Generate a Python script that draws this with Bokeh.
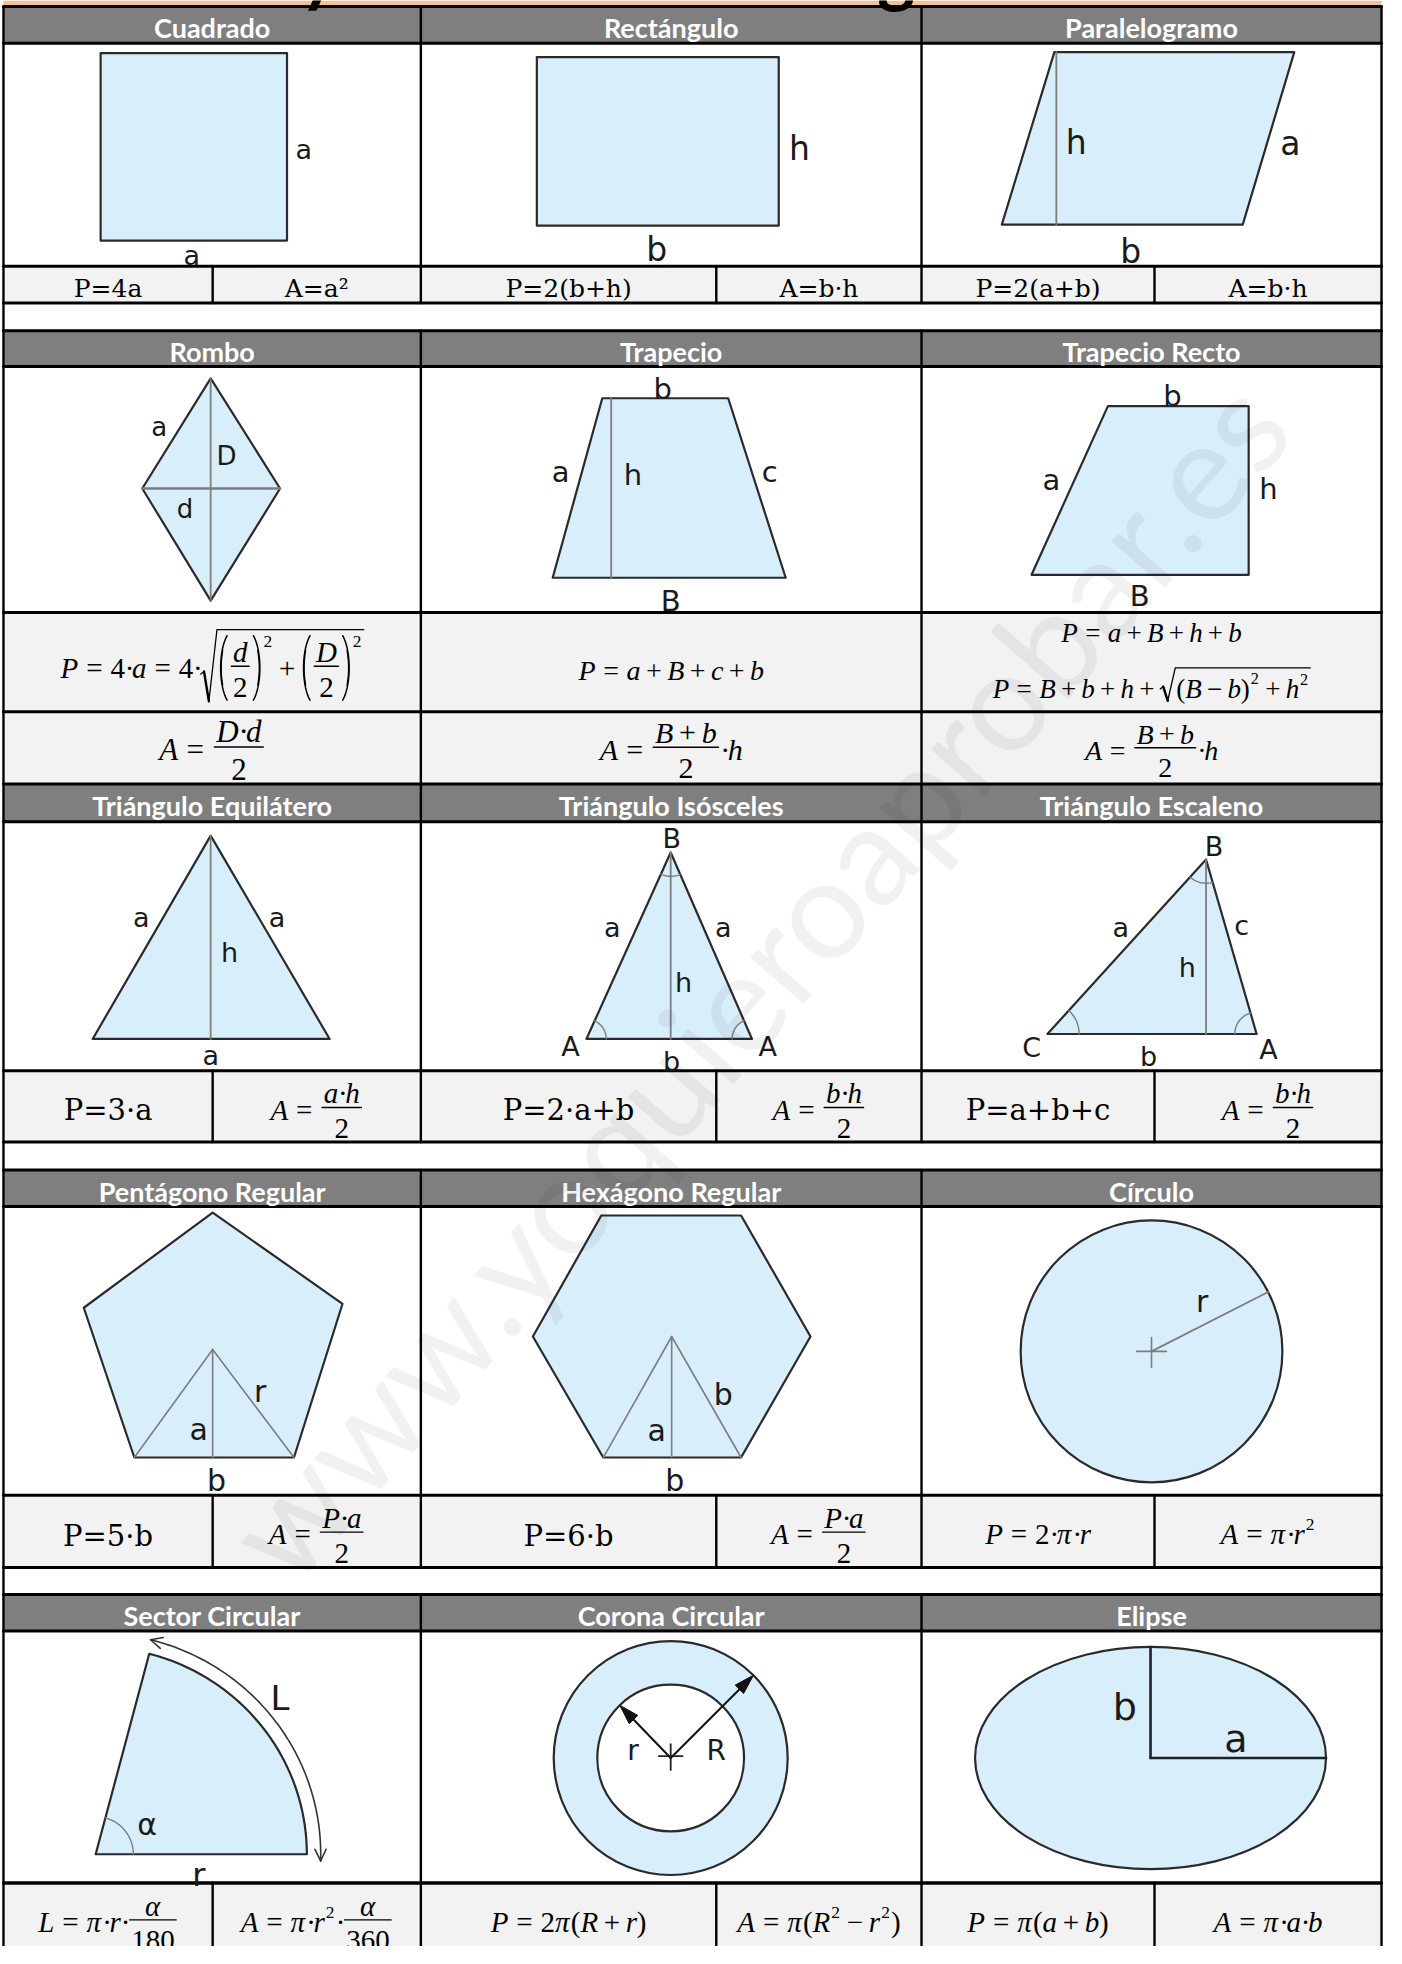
import math
import numpy as np
from bokeh.plotting import figure
from bokeh.models import Range1d
from bokeh.core.properties import value
from bokeh.embed import file_html
from bokeh.resources import INLINE

# ---------------------------------------------------------------- content
TITLE = "Áreas y Perímetros de Figuras Planas"
WATERMARK = "www.yoquieroaprobar.es"
HEADERS = [["Cuadrado", "Rectángulo", "Paralelogramo"],
           ["Rombo", "Trapecio", "Trapecio Recto"],
           ["Triángulo Equilátero", "Triángulo Isósceles", "Triángulo Escaleno"],
           ["Pentágono Regular", "Hexágono Regular", "Círculo"],
           ["Sector Circular", "Corona Circular", "Elipse"]]


# math token helpers (formula content)
def I(s): return ("t", s, "italic")
def R(s): return ("t", s, "normal")
def OP(s): return ("op", s, 0.28 if s == "=" else 0.2)
def SUP(s): return ("sup", s)
def FRAC(n, d): return ("frac", n, d)
def SQRT(*c): return ("sqrt", list(c))
def PAR(*c): return ("par", list(c))
DOT = R("·")

ROW1_FORMULAS = ["P=4a", "A=a²", "P=2(b+h)", "A=b·h", "P=2(a+b)", "A=b·h"]
ROW2_P = [
    [I("P"), OP("="), R("4"), DOT, I("a"), OP("="), R("4"), DOT,
     SQRT(PAR(FRAC([I("d")], [R("2")])), SUP("2"), OP("+"),
          PAR(FRAC([I("D")], [R("2")])), SUP("2"))],
    [I("P"), OP("="), I("a"), OP("+"), I("B"), OP("+"), I("c"), OP("+"), I("b")],
    [[I("P"), OP("="), I("a"), OP("+"), I("B"), OP("+"), I("h"), OP("+"), I("b")],
     [I("P"), OP("="), I("B"), OP("+"), I("b"), OP("+"), I("h"), OP("+"),
      SQRT(PAR(I("B"), OP("−"), I("b")), SUP("2"), OP("+"), I("h"), SUP("2"))]],
]
ROW2_A = [
    [I("A"), OP("="), FRAC([I("D"), DOT, I("d")], [R("2")])],
    [I("A"), OP("="), FRAC([I("B"), OP("+"), I("b")], [R("2")]), DOT, I("h")],
    [I("A"), OP("="), FRAC([I("B"), OP("+"), I("b")], [R("2")]), DOT, I("h")],
]
ROW3_FORMULAS = ["P=3·a", [I("A"), OP("="), FRAC([I("a"), DOT, I("h")], [R("2")])],
                 "P=2·a+b", [I("A"), OP("="), FRAC([I("b"), DOT, I("h")], [R("2")])],
                 "P=a+b+c", [I("A"), OP("="), FRAC([I("b"), DOT, I("h")], [R("2")])]]
ROW4_FORMULAS = ["P=5·b", [I("A"), OP("="), FRAC([I("P"), DOT, I("a")], [R("2")])],
                 "P=6·b", [I("A"), OP("="), FRAC([I("P"), DOT, I("a")], [R("2")])],
                 [I("P"), OP("="), R("2"), DOT, I("π"), DOT, I("r")],
                 [I("A"), OP("="), I("π"), DOT, I("r"), SUP("2")]]
ROW5_FORMULAS = [
    [I("L"), OP("="), I("π"), DOT, I("r"), DOT, FRAC([I("α")], [R("180")])],
    [I("A"), OP("="), I("π"), DOT, I("r"), SUP("2"), DOT, FRAC([I("α")], [R("360")])],
    [I("P"), OP("="), R("2"), I("π"), PAR(I("R"), OP("+"), I("r"))],
    [I("A"), OP("="), I("π"), PAR(I("R"), SUP("2"), OP("−"), I("r"), SUP("2"))],
    [I("P"), OP("="), I("π"), PAR(I("a"), OP("+"), I("b"))],
    [I("A"), OP("="), I("π"), DOT, I("a"), DOT, I("b")],
]

# shape geometry
SQUARE_X = [105, 293, 293, 105]; SQUARE_Y = [53, 53, 242, 242]
RECT_X = [545, 789, 789, 545]; RECT_Y = [57, 57, 227, 227]
PARA_X = [1067, 1309, 1257, 1014]; PARA_Y = [52, 52, 226, 226]
ROMBO_X = [216, 286, 216, 147]; ROMBO_Y = [381, 492, 605, 492]
TRAP_X = [611, 738, 796, 561]; TRAP_Y = [401, 401, 582, 582]; TRAP_HX = 620
TRAPR_X = [1121, 1263, 1263, 1044]; TRAPR_Y = [409, 409, 579, 579]
EQUI_X = [216, 336, 97]; EQUI_Y = [842, 1047, 1047]
ISOS_X = [680, 762, 595]; ISOS_Y = [859, 1047, 1047]
ESCA_X = [1220, 1271, 1060]; ESCA_Y = [866, 1042, 1042]
PENT_X = [218, 349, 300, 139, 88]; PENT_Y = [1222, 1314, 1469, 1469, 1318]; PENT_C = (218, 1360)
HEXA_X = [610, 751, 821, 751, 612, 541]; HEXA_Y = [1225, 1225, 1347, 1469, 1469, 1347]; HEXA_C = (681, 1347)
CIRCLE_C = (1165, 1362); CIRCLE_R = 132; CIRCLE_R_ANGLE = 27
SECTOR_V = (100, 1869); SECTOR_RX = 213; SECTOR_RY = 209; SECTOR_ANGLE = 75.3
CORONA_C = (680, 1772); CORONA_R = 118; CORONA_r = 74; CORONA_ANG_R = 45; CORONA_ANG_r = 134
ELLIPSE_C = (1164, 1772); ELLIPSE_A = 177; ELLIPSE_B = 112

# shape labels: (x centre, baseline, text, size)
LABELS = [
    (310, 157, "a", 27), (197, 264, "a", 27),
    (810, 158, "h", 33), (666, 260, "b", 33),
    (1089, 152, "h", 33), (1305, 153, "a", 33), (1144, 262, "b", 33),
    (164, 437, "a", 26), (232, 466, "D", 26), (190, 519, "d", 26),
    (672, 399, "b", 29), (569, 483, "a", 29), (642, 486, "h", 29), (780, 483, "c", 29), (680, 613, "B", 29),
    (1186, 406, "b", 29), (1064, 491, "a", 29), (1283, 500, "h", 29), (1153, 608, "B", 29),
    (146, 932, "a", 27), (283, 932, "a", 27), (235, 967, "h", 27), (216, 1071, "a", 27),
    (681, 852, "B", 27), (621, 942, "a", 27), (733, 942, "a", 27), (693, 997, "h", 27),
    (579, 1062, "A", 27), (778, 1062, "A", 27), (681, 1077, "b", 27),
    (1228, 860, "B", 27), (1134, 942, "a", 27), (1256, 940, "c", 27), (1201, 982, "h", 27),
    (1044, 1063, "C", 27), (1162, 1072, "b", 27), (1283, 1065, "A", 27),
    (266, 1410, "r", 30), (204, 1449, "a", 30), (222, 1500, "b", 30),
    (733, 1413, "b", 30), (666, 1450, "a", 30), (684, 1500, "b", 30),
    (1216, 1320, "r", 30),
    (286, 1720, "L", 34), (152, 1847, "α", 30), (204, 1898, "r", 32),
    (642, 1772, "r", 28), (726, 1772, "R", 28),
    (1138, 1730, "b", 38), (1250, 1763, "a", 38),
]

# ---------------------------------------------------------------- layout
COL_EDGES = [7, 428, 933, 1397]
SUB_EDGES = [7, 218, 428, 726, 933, 1168, 1397]
HEADER_ROWS = [(6, 43), (333, 369), (790, 828), (1179, 1216), (1607, 1644)]
SHAPE_ROWS = [(43, 268), (369, 617), (828, 1079), (1216, 1507), (1644, 1898)]
FORMULA_ROWS = [(268, 305), (617, 717), (717, 790), (1079, 1151), (1507, 1580), (1898, 1970)]
SPLIT_ROWS = [(268, 305), (1079, 1151), (1507, 1580), (1898, 1970)]
COL_SEGMENTS = [(6, 305), (333, 1151), (1179, 1580), (1607, 1970)]

FILL = "#d9eefb"
EDGE = "#2a2a2a"
INNER = "#7d7d7d"
MATH_FONT = "Liberation Serif"
PLAIN_FONT = "DejaVu Serif"
LABEL_FONT = "DejaVu Sans"
HEAD_FONT = "Lato"
# vertical correction (fraction of font size) so that glyphs sit on the wanted baseline
BASE_SHIFT = {"Lato": 0.32, "DejaVu Sans": 0.26, "DejaVu Serif": 0.27, "Liberation Serif": 0.19}

p = figure(width=1384, height=1946, x_range=Range1d(4, 1400), y_range=Range1d(1962, 0),
           output_backend="svg", toolbar_location=None, min_border=0,
           x_axis_type=None, y_axis_type=None)
p.grid.visible = False
p.outline_line_color = None
p.background_fill_color = "white"

TEXT_GROUPS = {}
LINE_GROUPS = {}


def add_text(x, y, s, font, size, style="normal", color="#000000", align="left",
             baseline="alphabetic", angle=0.0, alpha=1.0):
    if baseline == "alphabetic":
        y = y - BASE_SHIFT.get(font, 0.24) * size
    key = (font, round(size, 1), style, color, align, baseline, angle, alpha)
    g = TEXT_GROUPS.setdefault(key, ([], [], []))
    g[0].append(x); g[1].append(y); g[2].append(s)


def add_line(xs, ys, color="#000000", width=1.5):
    key = (color, width)
    g = LINE_GROUPS.setdefault(key, ([], []))
    g[0].append([float(v) for v in xs]); g[1].append([float(v) for v in ys])


# ---------------- math typesetting
WR = {' ': 0.25, '=': 0.564, '+': 0.564, '−': 0.564, '(': 0.333, ')': 0.333, '·': 0.25}
for _d in "0123456789":
    WR[_d] = 0.5
WI = {'a': 0.5, 'b': 0.5, 'c': 0.444, 'd': 0.5, 'h': 0.5, 'r': 0.389, 'P': 0.611, 'A': 0.611,
      'B': 0.611, 'D': 0.722, 'L': 0.556, 'R': 0.611, 'π': 0.55, 'α': 0.55}
AX, NUM, DEN = 0.27, 0.30, 0.92


def text_w(s, style, S):
    tab = WI if style == "italic" else WR
    return sum(tab.get(c, 0.5) for c in s) * S


def sup_raise(S, prev_a):
    return max(0.42 * S, prev_a - 0.32 * S)


def measure(t, S, prev_a):
    k = t[0]
    if k == "t":
        return text_w(t[1], t[2], S), 0.7 * S, 0.2 * S
    if k == "op":
        return text_w(t[1], "normal", S) + 2 * t[2] * S, 0.6 * S, 0.1 * S
    if k == "sup":
        s2 = 0.6 * S
        return text_w(t[1], "normal", s2) + 0.08 * S, sup_raise(S, prev_a) + 0.68 * s2, 0.0
    if k == "frac":
        wn, an, dn = measure_seq(t[1], S)
        wd, ad, dd = measure_seq(t[2], S)
        return max(wn, wd) + 0.24 * S, AX * S + NUM * S + an, DEN * S - AX * S + dd
    if k == "par":
        w, a, d = measure_seq(t[1], S)
        if a + d > 1.3 * S:
            return w + 0.8 * S, a + 0.06 * S, d + 0.06 * S
        return w + 0.666 * S, max(a, 0.76 * S), max(d, 0.22 * S)
    if k == "sqrt":
        w, a, d = measure_seq(t[1], S)
        return w + 0.66 * S, a + 0.14 * S, d + 0.05 * S


def measure_seq(toks, S):
    w, a, d, prev_a = 0.0, 0.7 * S, 0.2 * S, 0.7 * S
    for t in toks:
        tw_, ta, td = measure(t, S, prev_a)
        w += tw_; a = max(a, ta); d = max(d, td); prev_a = ta
    return w, a, d


def paren(x0, pw, top, bot, left):
    th = 1.0
    phi = np.linspace(-th, th, 31)
    mid = (top + bot) / 2.0
    h = bot - top
    ys = mid + (h / 2.0) * np.sin(phi) / np.sin(th)
    f = (1 - np.cos(phi)) / (1 - np.cos(th))
    xl, xr = x0 + 0.22 * pw, x0 + 0.78 * pw
    xs = xl + (xr - xl) * f if left else xr - (xr - xl) * f
    add_line(xs, ys, "#000000", 1.5)
    k = slice(8, 23)
    add_line(xs[k] + (0.6 if left else -0.6), ys[k], "#000000", 1.3)


def render(t, x, yb, S, prev_a):
    k = t[0]
    w, a, d = measure(t, S, prev_a)
    if k == "t":
        add_text(x, yb, t[1], MATH_FONT, S, t[2])
    elif k == "op":
        add_text(x + t[2] * S, yb, t[1], MATH_FONT, S)
    elif k == "sup":
        add_text(x + 0.04 * S, yb - sup_raise(S, prev_a), t[1], MATH_FONT, 0.6 * S)
    elif k == "frac":
        wn = measure_seq(t[1], S)[0]
        wd = measure_seq(t[2], S)[0]
        bar = yb - AX * S
        add_line([x + 0.06 * S, x + w - 0.06 * S], [bar, bar], "#000000", 1.4)
        render_seq(t[1], x + (w - wn) / 2, bar - NUM * S, S)
        render_seq(t[2], x + (w - wd) / 2, bar + DEN * S, S)
    elif k == "par":
        wi, ai, di = measure_seq(t[1], S)
        if ai + di > 1.3 * S:
            pw = 0.4 * S
            paren(x, pw, yb - a, yb + d, True)
            paren(x + w - pw, pw, yb - a, yb + d, False)
            render_seq(t[1], x + pw, yb, S)
        else:
            add_text(x, yb, "(", MATH_FONT, S)
            render_seq(t[1], x + 0.333 * S, yb, S)
            add_text(x + 0.333 * S + wi, yb, ")", MATH_FONT, S)
    elif k == "sqrt":
        wi, ai, di = measure_seq(t[1], S)
        top = yb - ai - 0.12 * S
        bot = yb + di + 0.04 * S
        mid = top + 0.6 * (bot - top)
        xs = [x + 0.02 * S, x + 0.13 * S, x + 0.3 * S, x + 0.58 * S, x + w]
        ys = [mid + 0.05 * S, mid - 0.04 * S, bot, top, top]
        add_line(xs, ys, "#000000", 1.3)
        add_line(xs[1:3], ys[1:3], "#000000", 2.4)
        render_seq(t[1], x + 0.62 * S, yb, S)
    return w, a


def render_seq(toks, x, yb, S):
    prev_a = 0.7 * S
    for t in toks:
        w, a = render(t, x, yb, S, prev_a)
        x += w
        prev_a = a
    return x


def formula(item, cx, yb, S_math, S_plain=25, plain_dy=0):
    if isinstance(item, str):
        add_text(cx, yb + plain_dy, item, PLAIN_FONT, S_plain, align="center")
    else:
        w = measure_seq(item, S_math)[0]
        render_seq(item, cx - w / 2, yb, S_math)


# ---------------------------------------------------------------- table
L, Rr = COL_EDGES[0], COL_EDGES[-1]
p.quad(left=[L], right=[Rr], top=[0], bottom=[6], fill_color="#f9c08f", line_color=None)
p.quad(left=[L] * len(HEADER_ROWS), right=[Rr] * len(HEADER_ROWS),
       top=[a for a, b in HEADER_ROWS], bottom=[b for a, b in HEADER_ROWS],
       fill_color="#7f7f7f", line_color=None)
p.quad(left=[L] * len(FORMULA_ROWS), right=[Rr] * len(FORMULA_ROWS),
       top=[a for a, b in FORMULA_ROWS], bottom=[b for a, b in FORMULA_ROWS],
       fill_color="#f2f2f2", line_color=None)

# title (only its descenders show above the table)
add_text(700, -8, TITLE, HEAD_FONT, 72, "bold", align="center")

# ---------------------------------------------------------------- shapes
poly_x = [SQUARE_X, RECT_X, PARA_X, ROMBO_X, TRAP_X, TRAPR_X, EQUI_X, ISOS_X, ESCA_X, PENT_X, HEXA_X]
poly_y = [SQUARE_Y, RECT_Y, PARA_Y, ROMBO_Y, TRAP_Y, TRAPR_Y, EQUI_Y, ISOS_Y, ESCA_Y, PENT_Y, HEXA_Y]

# sector polygon
t1 = math.radians(SECTOR_ANGLE)
ts = np.linspace(0, t1, 60)
sec_x = [SECTOR_V[0]] + list(SECTOR_V[0] + SECTOR_RX * np.cos(ts))
sec_y = [SECTOR_V[1]] + list(SECTOR_V[1] - SECTOR_RY * np.sin(ts))
poly_x.append(sec_x); poly_y.append(sec_y)

p.patches(xs=poly_x, ys=poly_y, fill_color=FILL, line_color=EDGE, line_width=2.2, line_join="round")

# circles / ellipses
p.ellipse(x=[CIRCLE_C[0], CORONA_C[0], ELLIPSE_C[0]], y=[CIRCLE_C[1], CORONA_C[1], ELLIPSE_C[1]],
          width=[2 * CIRCLE_R, 2 * CORONA_R, 2 * ELLIPSE_A], height=[2 * CIRCLE_R, 2 * CORONA_R, 2 * ELLIPSE_B],
          fill_color=FILL, line_color=EDGE, line_width=2.2)
p.ellipse(x=[CORONA_C[0]], y=[CORONA_C[1]], width=[2 * CORONA_r], height=[2 * CORONA_r],
          fill_color="white", line_color=EDGE, line_width=2.2)

# inner construction lines
add_line([PARA_X[0] + 2, PARA_X[0] + 2], [PARA_Y[0], PARA_Y[2]], INNER, 1.8)
add_line([ROMBO_X[0], ROMBO_X[2]], [ROMBO_Y[0], ROMBO_Y[2]], INNER, 1.8)
add_line([ROMBO_X[3], ROMBO_X[1]], [ROMBO_Y[3], ROMBO_Y[1]], INNER, 2.4)
add_line([TRAP_HX, TRAP_HX], [TRAP_Y[0], TRAP_Y[2]], INNER, 1.8)
for TX, TY in [(EQUI_X, EQUI_Y), (ISOS_X, ISOS_Y), (ESCA_X, ESCA_Y)]:
    add_line([TX[0], TX[0]], [TY[0], TY[1]], INNER, 1.8)
for C, XX, YY, i1, i2 in [(PENT_C, PENT_X, PENT_Y, 3, 2), (HEXA_C, HEXA_X, HEXA_Y, 4, 3)]:
    add_line([XX[i1], C[0], XX[i2]], [YY[i1], C[1], YY[i2]], INNER, 1.6)
    add_line([C[0], C[0]], [C[1], YY[i1]], INNER, 1.6)


def angle_arc(V, P1, P2, r, color=INNER, width=1.4):
    a1 = math.atan2(P1[1] - V[1], P1[0] - V[0])
    a2 = math.atan2(P2[1] - V[1], P2[0] - V[0])
    da = (a2 - a1 + math.pi) % (2 * math.pi) - math.pi
    aa = a1 + np.linspace(0, 1, 20) * da
    add_line(V[0] + r * np.cos(aa), V[1] + r * np.sin(aa), color, width)


iso = list(zip(ISOS_X, ISOS_Y))
angle_arc(iso[0], iso[1], iso[2], 24)
angle_arc(iso[1], iso[0], iso[2], 20)
angle_arc(iso[2], iso[0], iso[1], 20)
esc = list(zip(ESCA_X, ESCA_Y))
angle_arc(esc[0], esc[1], esc[2], 24)
angle_arc(esc[1], esc[0], esc[2], 22)
angle_arc(esc[2], esc[0], esc[1], 32)

# circle radius + centre cross
ca = math.radians(CIRCLE_R_ANGLE)
add_line([CIRCLE_C[0], CIRCLE_C[0] + CIRCLE_R * math.cos(ca)],
         [CIRCLE_C[1], CIRCLE_C[1] - CIRCLE_R * math.sin(ca)], INNER, 1.8)
add_line([CIRCLE_C[0] - 15, CIRCLE_C[0] + 15], [CIRCLE_C[1], CIRCLE_C[1]], INNER, 1.6)
add_line([CIRCLE_C[0], CIRCLE_C[0]], [CIRCLE_C[1] - 14, CIRCLE_C[1] + 16], INNER, 1.6)

# sector: angle arc and double arrow along L
angle_arc(SECTOR_V, (SECTOR_V[0] + 10, SECTOR_V[1]),
          (SECTOR_V[0] + SECTOR_RX * math.cos(t1), SECTOR_V[1] - SECTOR_RY * math.sin(t1)), 38)
ta = np.linspace(-0.03, t1 + 0.01, 60)
ax_ = SECTOR_V[0] + (SECTOR_RX + 14) * np.cos(ta)
ay_ = SECTOR_V[1] - (SECTOR_RY + 14) * np.sin(ta)
add_line(ax_, ay_, "#333333", 1.6)
for (tx, ty), (px, py) in [((ax_[0], ay_[0]), (ax_[3], ay_[3])), ((ax_[-1], ay_[-1]), (ax_[-4], ay_[-4]))]:
    ux, uy = tx - px, ty - py
    n = math.hypot(ux, uy); ux, uy = ux / n, uy / n
    for s in (1, -1):
        c, si = math.cos(s * 0.45), math.sin(s * 0.45)
        bx, by = -(ux * c - uy * si), -(ux * si + uy * c)
        add_line([tx, tx + 13 * bx], [ty, ty + 13 * by], "#333333", 1.6)

# corona: centre cross and radius arrows
add_line([CORONA_C[0] - 12, CORONA_C[0] + 12], [CORONA_C[1] - 2, CORONA_C[1] - 2], "#222222", 1.8)
add_line([CORONA_C[0], CORONA_C[0]], [CORONA_C[1] - 14, CORONA_C[1] + 12], "#222222", 1.8)
heads_x, heads_y = [], []
for ang, rad in [(CORONA_ANG_r, CORONA_r), (CORONA_ANG_R, CORONA_R)]:
    ar = math.radians(ang)
    ux, uy = math.cos(ar), -math.sin(ar)
    tx, ty = CORONA_C[0] + rad * ux, CORONA_C[1] + rad * uy
    add_line([CORONA_C[0], tx - 12 * ux], [CORONA_C[1], ty - 12 * uy], "#111111", 2.0)
    nx, ny = -uy, ux
    heads_x.append([tx, tx - 20 * ux + 6 * nx, tx - 20 * ux - 6 * nx])
    heads_y.append([ty, ty - 20 * uy + 6 * ny, ty - 20 * uy - 6 * ny])
p.patches(xs=heads_x, ys=heads_y, fill_color="#111111", line_color="#111111", line_width=1)

# ellipse semi-axes
add_line([ELLIPSE_C[0], ELLIPSE_C[0]], [ELLIPSE_C[1] - ELLIPSE_B, ELLIPSE_C[1]], "#222222", 2.6)
add_line([ELLIPSE_C[0], ELLIPSE_C[0] + ELLIPSE_A], [ELLIPSE_C[1], ELLIPSE_C[1]], "#222222", 2.6)

# ---------------------------------------------------------------- grid lines
for y in sorted({v for row in HEADER_ROWS + SHAPE_ROWS + FORMULA_ROWS[:-1] for v in row}):
    add_line([L, Rr], [y, y], "#000000", 3)
add_line([L, Rr], [FORMULA_ROWS[-1][0], FORMULA_ROWS[-1][0]], "#000000", 3)
for x in (L, Rr):
    add_line([x, x], [6, 1970], "#000000", 2.4)
for x in COL_EDGES[1:-1]:
    for a, b in COL_SEGMENTS:
        add_line([x, x], [a, b], "#000000", 2.4)
for x in (SUB_EDGES[1], SUB_EDGES[3], SUB_EDGES[5]):
    for a, b in SPLIT_ROWS:
        add_line([x, x], [a, b], "#000000", 2.4)

# ---------------------------------------------------------------- texts
col_c = [(COL_EDGES[i] + COL_EDGES[i + 1]) / 2 for i in range(3)]
sub_c = [(SUB_EDGES[i] + SUB_EDGES[i + 1]) / 2 for i in range(6)]

for r, (top, bot) in enumerate(HEADER_ROWS):
    for c in range(3):
        add_text(col_c[c], top + 30, HEADERS[r][c], HEAD_FONT, 27, "bold", "#ffffff", align="center")

for (x, y, s, size) in LABELS:
    add_text(x, y, s, LABEL_FONT, size, color="#1a1a1a", align="center")

for i, f in enumerate(ROW1_FORMULAS):
    formula(f, sub_c[i], 297, 26, 25)
formula(ROW2_P[0], col_c[0], 679, 29)
formula(ROW2_P[1], col_c[1], 681, 28)
formula(ROW2_P[2][0], col_c[2], 643, 27)
formula(ROW2_P[2][1], col_c[2], 699, 27)
for i, f in enumerate(ROW2_A):
    formula(f, col_c[i], 761, [31, 30, 28][i])
for i, f in enumerate(ROW3_FORMULAS):
    formula(f, sub_c[i], 1124, 29, 29, 2)
for i, f in enumerate(ROW4_FORMULAS):
    formula(f, sub_c[i], 1552, 29, 29, 4)
for i, f in enumerate(ROW5_FORMULAS):
    formula(f, sub_c[i], 1943, 29)

# watermark
add_text(765, 985, WATERMARK, HEAD_FONT, 140, "normal", "#000000", align="center",
         baseline="middle", angle=49.0, alpha=0.055)

# ---------------------------------------------------------------- emit
for (color, width), (xs, ys) in LINE_GROUPS.items():
    p.multi_line(xs=xs, ys=ys, line_color=color, line_width=width, line_cap="round", line_join="round")
for (font, size, style, color, align, baseline, angle, alpha), (xs, ys, ts_) in TEXT_GROUPS.items():
    p.text(x=xs, y=ys, text=ts_, text_font=value(font), text_font_size=value(f"{size}px"),
           text_font_style=style, text_color=color, text_align=align, text_baseline=baseline,
           angle=angle, angle_units="deg", text_alpha=alpha)

open("out.html", "w").write(file_html(p, INLINE))
